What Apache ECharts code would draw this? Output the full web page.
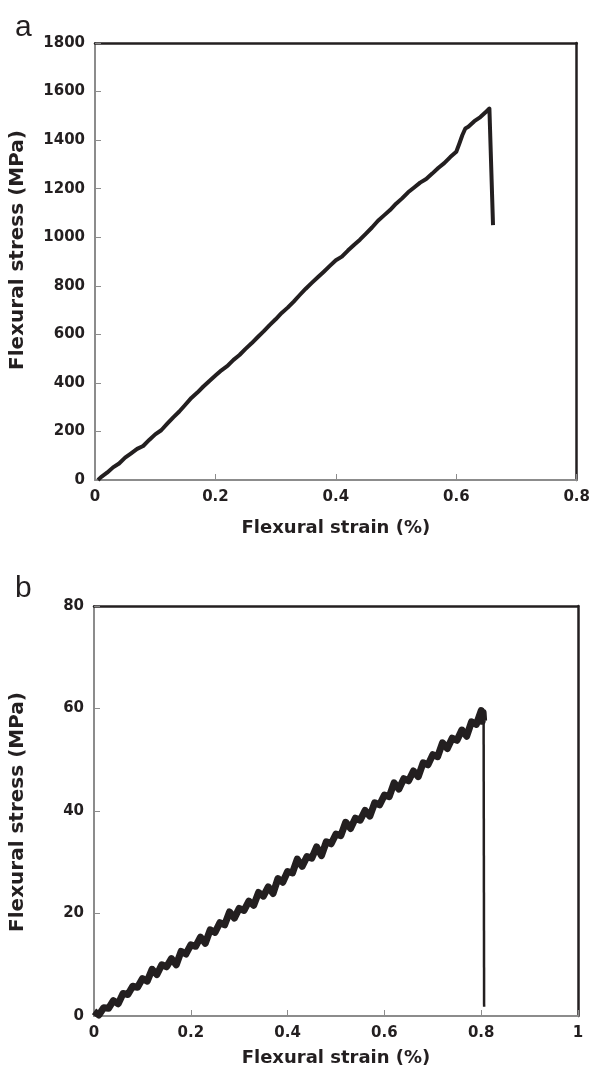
<!DOCTYPE html>
<html>
<head>
<meta charset="utf-8">
<script src="https://cdn.jsdelivr.net/npm/echarts@6/dist/echarts.min.js"></script>
<style>
html,body{margin:0;padding:0;background:#fff;}
#chart{width:593px;height:1071px;}
</style>
</head>
<body>
<div id="chart"></div>
<script>
// ---- Panel a data ----
const strainA = [0.005,0.01,0.02,0.03,0.04,0.05,0.06,0.07,0.08,0.09,0.10,0.11,0.12,0.13,0.14,0.15,0.16,0.17,0.18,0.19,0.20,0.21,0.22,0.23,0.24,0.25,0.26,0.27,0.28,0.29,0.30,0.31,0.32,0.33,0.34,0.35,0.36,0.37,0.38,0.39,0.40,0.41,0.42,0.43,0.44,0.45,0.46,0.47,0.48,0.49,0.50,0.51,0.52,0.53,0.54,0.55,0.56,0.57,0.58,0.59,0.60,0.605,0.61,0.615,0.62,0.63,0.64,0.65,0.655,0.658,0.661];
const stressA = [0,12,30,52,68,92,110,128,140,165,188,205,232,258,282,310,338,360,385,408,430,452,470,495,515,540,563,588,612,638,662,688,710,735,762,788,812,835,858,882,905,920,945,968,990,1015,1040,1068,1090,1112,1138,1160,1185,1205,1225,1240,1262,1285,1305,1330,1352,1385,1420,1448,1455,1478,1495,1518,1530,1525,1050];

// ---- Panel b data ----
const strainB = [0.00,0.01,0.02,0.03,0.04,0.05,0.06,0.07,0.08,0.09,0.10,0.11,0.12,0.13,0.14,0.15,0.16,0.17,0.18,0.19,0.20,0.21,0.22,0.23,0.24,0.25,0.26,0.27,0.28,0.29,0.30,0.31,0.32,0.33,0.34,0.35,0.36,0.37,0.38,0.39,0.40,0.41,0.42,0.43,0.44,0.45,0.46,0.47,0.48,0.49,0.50,0.51,0.52,0.53,0.54,0.55,0.56,0.57,0.58,0.59,0.60,0.61,0.62,0.63,0.64,0.65,0.66,0.67,0.68,0.69,0.70,0.71,0.72,0.73,0.74,0.75,0.76,0.77,0.78,0.79,0.80,0.802,0.804,0.805,0.806];
const stressB = [0.9,0.2,1.6,1.5,3.0,2.4,4.4,4.2,5.8,5.6,7.3,6.8,9.1,8.1,10.0,9.6,11.2,10.0,12.6,12.1,13.9,13.6,15.4,14.2,16.8,16.3,18.2,17.8,20.3,19.1,21.0,20.6,22.4,21.6,24.1,23.4,25.2,23.9,26.8,26.1,28.2,27.9,30.6,29.2,31.1,30.8,33.0,31.3,34.0,33.6,35.5,35.2,37.8,36.6,38.6,38.2,40.1,39.0,41.6,41.2,43.1,42.8,45.5,44.3,46.3,45.9,47.8,46.7,49.4,49.0,51.0,50.6,53.3,52.2,54.2,53.8,55.8,54.6,57.4,56.9,59.6,57.5,59.2,57.6,1.8];

// ---- Axis settings ----
const xTitle = 'Flexural strain (%)';
const yTitle = 'Flexural stress (MPa)';
const xMaxA = 0.8, yMaxA = 1800, yStepA = 200;
const xMaxB = 1, yMaxB = 80, yStepB = 20;
const xStep = 0.2;

const pairs = (xs, ys) => xs.map((x, i) => [x, ys[i]]);
const dataB = pairs(strainB, stressB);

const INK = '#231f20';
const GRAY = '#8c8c8c';
const FONT = 'DejaVu Sans';

function mainX(grid, max, gap) {
  return {
    gridIndex: grid, type: 'value', min: 0, max: max, interval: xStep,
    name: xTitle, nameLocation: 'middle', nameGap: gap,
    nameTextStyle: {fontFamily: FONT, fontWeight: 'bold', fontSize: 18, color: INK},
    axisLine: {show: true, onZero: false, lineStyle: {color: GRAY, width: 2}},
    axisTick: {show: true, inside: true, length: 6, lineStyle: {color: GRAY, width: 1}},
    axisLabel: {fontFamily: FONT, fontWeight: 'bold', fontSize: 15, color: INK, margin: 10, formatter: v => String(v)},
    splitLine: {show: false}
  };
}
function mainY(grid, max, step) {
  return {
    gridIndex: grid, type: 'value', min: 0, max: max, interval: step,
    axisLine: {show: true, onZero: false, lineStyle: {color: GRAY, width: 2}},
    axisTick: {show: true, inside: true, length: 6, lineStyle: {color: GRAY, width: 1}},
    axisLabel: {fontFamily: FONT, fontWeight: 'bold', fontSize: 15, color: INK, margin: 10, formatter: v => String(v)},
    splitLine: {show: false}
  };
}
function borderX(grid, max) {
  return {
    gridIndex: grid, type: 'value', min: 0, max: max, position: 'top',
    axisLine: {show: true, onZero: false, lineStyle: {color: INK, width: 2.5}},
    axisTick: {show: false}, axisLabel: {show: false}, splitLine: {show: false}
  };
}
function borderY(grid, max) {
  return {
    gridIndex: grid, type: 'value', min: 0, max: max, position: 'right',
    axisLine: {show: true, onZero: false, lineStyle: {color: INK, width: 2.5}},
    axisTick: {show: false}, axisLabel: {show: false}, splitLine: {show: false}
  };
}
function yTitleText(cy) {
  return {
    type: 'text', x: 18, y: cy, rotation: Math.PI / 2,
    style: {text: yTitle, font: 'bold 20px "DejaVu Sans"', fill: INK, align: 'center', verticalAlign: 'middle'}
  };
}

const chart = echarts.init(document.getElementById('chart'), null, {renderer: 'canvas'});
chart.setOption({
  animation: false,
  backgroundColor: '#fff',
  grid: [
    {left: 95, top: 43, width: 484, height: 437},
    {left: 94, top: 606, width: 484, height: 410}
  ],
  xAxis: [mainX(0, xMaxA, 39), borderX(0, xMaxA), mainX(1, xMaxB, 33), borderX(1, xMaxB)],
  yAxis: [mainY(0, yMaxA, yStepA), borderY(0, yMaxA), mainY(1, yMaxB, yStepB), borderY(1, yMaxB)],
  graphic: [
    {type: 'text', left: 15, top: 13, style: {text: 'a', font: '30px "Liberation Sans", Arial, sans-serif', fill: INK}},
    {type: 'text', left: 15, top: 574, style: {text: 'b', font: '30px "Liberation Sans", Arial, sans-serif', fill: INK}},
    yTitleText(250),
    yTitleText(812)
  ],
  series: [
    {
      type: 'line', xAxisIndex: 0, yAxisIndex: 0, data: pairs(strainA, stressA),
      showSymbol: false, symbol: 'none', smooth: false,
      lineStyle: {color: INK, width: 4, join: 'round'}, z: 5
    },
    {
      type: 'line', xAxisIndex: 2, yAxisIndex: 2, data: dataB.slice(0, -1),
      showSymbol: false, symbol: 'none', smooth: false,
      lineStyle: {color: INK, width: 7, join: 'round'}, z: 5
    },
    {
      type: 'line', xAxisIndex: 2, yAxisIndex: 2, data: dataB.slice(-2),
      showSymbol: false, symbol: 'none', smooth: false,
      lineStyle: {color: INK, width: 2.5}, z: 5
    }
  ]
});
</script>
</body>
</html>
